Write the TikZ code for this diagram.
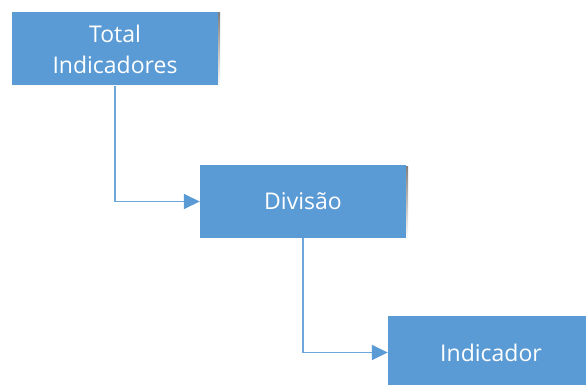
\documentclass[tikz,border=0pt]{standalone}
\usepackage{fontspec}
\setmainfont{Open Sans}
\usetikzlibrary{arrows.meta}
\definecolor{boxblue}{HTML}{5B9BD5}
\definecolor{lineblue}{HTML}{6EA7DB}
\definecolor{shade}{HTML}{E4E9EF}
\begin{document}
\begin{tikzpicture}[x=1pt,y=-1pt,
  box/.style={fill=boxblue, draw=none, minimum width=206pt, minimum height=73pt,
    inner sep=0pt, text=white, align=center,
    font=\fontsize{23}{31}\selectfont},
  conn/.style={draw=lineblue, line width=1.6pt,
    -{Triangle[length=16pt,width=15pt,fill=boxblue,color=boxblue]}}]
\useasboundingbox (0,0) rectangle (586,385);
\clip (0,0) rectangle (586,385);
% soft shadows under the boxes
\fill[shade] (13,13) rectangle (220,88);
\fill[shade] (201,166) rectangle (408,240);
\fill[shade] (389,317) rectangle (596,391);
% boxes
\node[box] (total) at (115,49) {Total\\Indicadores};
\node[box] (div) at (303,201.5) {Divisão};
\node[box] (ind) at (491,352.5) {Indicador};
% connectors
\draw[conn] (total.south) |- (div.west);
\draw[conn] (div.south) |- (ind.west);
\end{tikzpicture}
\end{document}
